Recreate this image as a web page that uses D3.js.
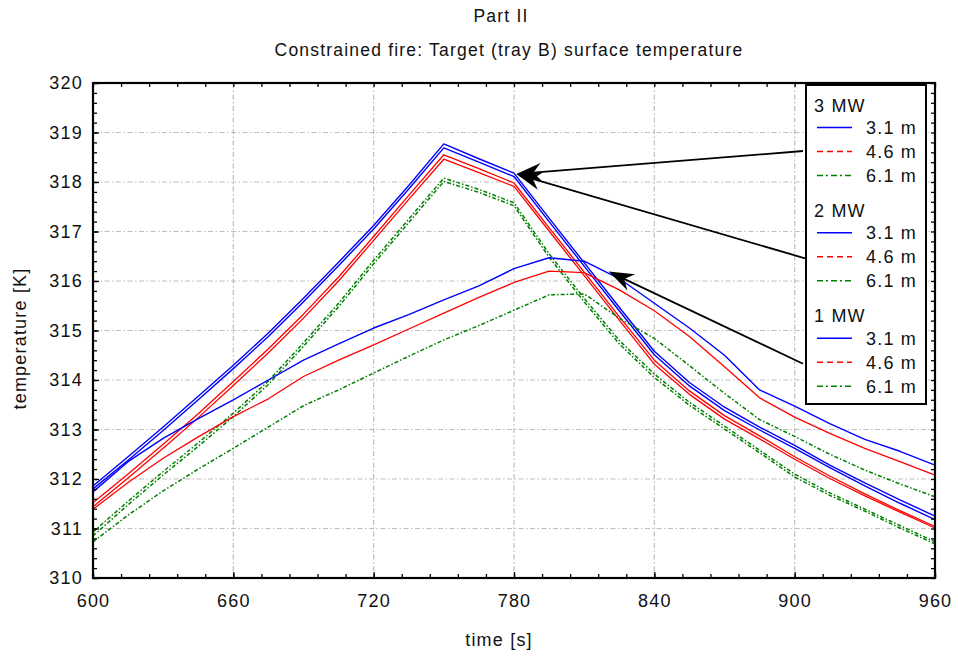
<!DOCTYPE html>
<html><head><meta charset="utf-8">
<script src="https://cdn.jsdelivr.net/npm/d3@7"></script>
<style>
body{margin:0;background:#fff}
text{font-family:"Liberation Sans",Arial,Helvetica,sans-serif;letter-spacing:1.2px;fill:#111}
</style>
</head><body>
<svg id="c" width="958" height="656"></svg>
<script>
// ---------- data ----------
const time = [600,615,630,645,660,675,690,705,720,735,750,765,780,795,810,825,840,855,870,885,900,915,930,945,960];
const mw3_h31 = [311.86,312.45,313.05,313.67,314.30,314.95,315.65,316.38,317.12,317.93,318.77,318.47,318.18,317.27,316.37,315.47,314.58,313.95,313.45,313.05,312.68,312.28,311.92,311.58,311.25];
const mw3_h46 = [311.52,312.10,312.70,313.32,313.97,314.63,315.33,316.08,316.90,317.73,318.55,318.27,317.98,317.08,316.18,315.28,314.40,313.78,313.28,312.87,312.45,312.06,311.70,311.36,311.04];
const mw3_h61 = [310.93,311.55,312.15,312.73,313.33,313.98,314.75,315.55,316.42,317.25,318.08,317.85,317.58,316.55,315.65,314.80,314.12,313.55,313.07,312.58,312.10,311.72,311.39,311.06,310.73];
const mw2_h31 = [311.80,312.38,312.98,313.60,314.23,314.88,315.58,316.31,317.05,317.86,318.69,318.40,318.11,317.20,316.30,315.40,314.51,313.88,313.38,312.99,312.62,312.23,311.86,311.51,311.18];
const mw2_h46 = [311.44,312.02,312.62,313.24,313.89,314.55,315.25,316.00,316.82,317.65,318.46,318.19,317.91,317.01,316.11,315.21,314.32,313.71,313.21,312.81,312.40,312.01,311.66,311.33,311.01];
const mw2_h61 = [310.85,311.48,312.08,312.66,313.26,313.91,314.68,315.48,316.35,317.18,318.01,317.79,317.52,316.48,315.58,314.73,314.05,313.49,313.01,312.53,312.04,311.67,311.35,311.01,310.69];
const mw1_h31 = [311.74,312.35,312.82,313.22,313.60,314.00,314.40,314.73,315.05,315.32,315.62,315.90,316.25,316.47,316.40,316.05,315.55,315.05,314.50,313.80,313.47,313.12,312.80,312.56,312.28];
const mw1_h46 = [311.39,311.93,312.42,312.85,313.26,313.62,314.07,314.40,314.71,315.03,315.35,315.67,315.97,316.20,316.17,315.82,315.40,314.88,314.27,313.64,313.25,312.92,312.62,312.35,312.08];
const mw1_h61 = [310.73,311.27,311.76,312.20,312.62,313.05,313.48,313.80,314.14,314.48,314.81,315.10,315.41,315.72,315.74,315.25,314.84,314.29,313.73,313.20,312.86,312.50,312.18,311.90,311.64];

const powers = ["3 MW","2 MW","1 MW"];
const heights = ["3.1 m","4.6 m","6.1 m"];
const xTicks = [600,660,720,780,840,900,960];
const yTicks = [310,311,312,313,314,315,316,317,318,319,320];
const titleText = "Part II";
const subtitleText = "Constrained fire: Target (tray B) surface temperature";
const xLabel = "time [s]";
const yLabel = "temperature [K]";
// arrow tips (data coordinates) for each power group
const arrowTipsT = [781, 781, 820.5];
const arrowTipsK = [318.16, 318.16, 316.19];

const seriesValues = [
  [mw3_h31, mw3_h46, mw3_h61],
  [mw2_h31, mw2_h46, mw2_h61],
  [mw1_h31, mw1_h46, mw1_h61]
];

// ---------- layout ----------
const W = 958, H = 656;
const m = {left:93, right:935, top:83, bottom:578};
const svg = d3.select("#c");
const x = d3.scaleLinear().domain([600,960]).range([m.left, m.right]);
const y = d3.scaleLinear().domain([310,320]).range([m.bottom, m.top]);

const colors = ["#0000ff","#ff0000","#008000"];
const plotDash = [null, null, "4,2,1.5,2"];
const legendDash = [null, "6,4", "6,3,2,3"];
const plotWidth = [1.4, 1.3, 1.5];

// grid
const grid = svg.append("g");
xTicks.filter(v => v>600 && v<960).forEach(v => {
  grid.append("line").attr("x1", x(v)).attr("x2", x(v)).attr("y1", m.top).attr("y2", m.bottom)
    .attr("stroke","#bdbdbd").attr("stroke-width",1.2).attr("stroke-dasharray","5,2.5,1.5,2.5");
});
yTicks.filter(v => v>310 && v<320).forEach(v => {
  grid.append("line").attr("x1", m.left).attr("x2", m.right).attr("y1", y(v)).attr("y2", y(v))
    .attr("stroke","#bdbdbd").attr("stroke-width",1.2).attr("stroke-dasharray","5,2.5,1.5,2.5");
});

// data lines
const line = d3.line().x((d,i) => x(time[i])).y(d => y(d));
const lines = svg.append("g");
seriesValues.forEach((grp, gi) => {
  grp.forEach((vals, hi) => {
    lines.append("path").attr("d", line(vals)).attr("fill","none")
      .attr("stroke", colors[hi]).attr("stroke-width", plotWidth[hi])
      .attr("stroke-dasharray", plotDash[hi]).attr("stroke-linejoin","round");
  });
});

// axes
function styleAxis(g, fs) {
  g.select(".domain").remove();
  g.selectAll("line").attr("stroke","#000").attr("stroke-width",1.3);
  g.selectAll("text").attr("font-size", fs).attr("fill","#111")
    .attr("font-family","Liberation Sans, Arial, sans-serif");
}
const minorX = d3.range(600, 961, 12);
const minorY = d3.range(310, 320.001, 0.2);

const gxB = svg.append("g").attr("transform",`translate(0,${m.bottom})`)
  .call(d3.axisBottom(x).tickValues(xTicks).tickFormat(d3.format("d")).tickSizeInner(-6).tickSizeOuter(0).tickPadding(16));
styleAxis(gxB, 18);
const gxBm = svg.append("g").attr("transform",`translate(0,${m.bottom})`)
  .call(d3.axisBottom(x).tickValues(minorX).tickFormat("").tickSizeInner(-4).tickSizeOuter(0));
styleAxis(gxBm, 0);
const gxT = svg.append("g").attr("transform",`translate(0,${m.top})`)
  .call(d3.axisTop(x).tickValues(minorX).tickFormat("").tickSizeInner(-4).tickSizeOuter(0));
styleAxis(gxT, 0);
const gyL = svg.append("g").attr("transform",`translate(${m.left},0)`)
  .call(d3.axisLeft(y).tickValues(yTicks).tickFormat(d3.format("d")).tickSizeInner(-6).tickSizeOuter(0).tickPadding(10));
styleAxis(gyL, 18);
const gyLm = svg.append("g").attr("transform",`translate(${m.left},0)`)
  .call(d3.axisLeft(y).tickValues(minorY).tickFormat("").tickSizeInner(-4).tickSizeOuter(0));
styleAxis(gyLm, 0);
const gyR = svg.append("g").attr("transform",`translate(${m.right},0)`)
  .call(d3.axisRight(y).tickValues(minorY).tickFormat("").tickSizeInner(-4).tickSizeOuter(0));
styleAxis(gyR, 0);

// frame
svg.append("rect").attr("x", m.left).attr("y", m.top).attr("width", m.right-m.left).attr("height", m.bottom-m.top)
  .attr("fill","none").attr("stroke","#000").attr("stroke-width",2.2);

// legend
const lg = {x:806, y:85, w:120, h:319};
const leg = svg.append("g");
leg.append("rect").attr("x", lg.x).attr("y", lg.y).attr("width", lg.w).attr("height", lg.h)
  .attr("fill","#fff").attr("stroke","#000").attr("stroke-width",2);
const groupBase = [111.5, 216.8, 322.2];
const rowY = [];
powers.forEach((p, gi) => {
  const hb = groupBase[gi];
  leg.append("text").attr("x", 814).attr("y", hb).attr("font-size",18).text(p);
  rowY.push([]);
  heights.forEach((h, hi) => {
    const ry = hb + 16 + hi*24;
    rowY[gi].push(ry);
    leg.append("line").attr("x1", 817).attr("x2", 852).attr("y1", ry).attr("y2", ry)
      .attr("stroke", colors[hi]).attr("stroke-width", 1.6).attr("stroke-dasharray", legendDash[hi]);
    leg.append("text").attr("x", 866).attr("y", ry + 6.5).attr("font-size",18).text(h);
  });
});

// arrows
const arr = svg.append("g");
const tails = [[803, rowY[0][1] - 0.5], [805, rowY[1][1] + 1.5], [803, rowY[2][1] + 1.5]];
arrowTipsT.forEach((t, i) => {
  const tx = x(t), ty = y(arrowTipsK[i]);
  const [sx, sy] = tails[i];
  const ang = Math.atan2(sy - ty, sx - tx);
  const c = Math.cos(ang), s = Math.sin(ang);
  const L = 25, Wd = 9, N = 17;
  const pt = (a, b) => [tx + a*c - b*s, ty + a*s + b*c];
  const nx = pt(N, 0);
  arr.append("line").attr("x1", sx).attr("y1", sy).attr("x2", nx[0]).attr("y2", nx[1])
    .attr("stroke","#000").attr("stroke-width",1.8);
  const pts = [pt(0,0), pt(L, Wd), pt(N, 0), pt(L, -Wd)];
  arr.append("path").attr("d", "M" + pts.map(p => p.join(",")).join("L") + "Z").attr("fill","#000");
});

// titles
svg.append("text").attr("x", 501).attr("y", 22).attr("text-anchor","middle").attr("font-size",17.5).text(titleText);
svg.append("text").attr("x", 509).attr("y", 55.5).attr("text-anchor","middle").attr("font-size",17.5).text(subtitleText);
svg.append("text").attr("x", 499).attr("y", 646).attr("text-anchor","middle").attr("font-size",18).text(xLabel);
svg.append("text").attr("transform","translate(26,338.5) rotate(-90)").attr("text-anchor","middle").attr("font-size",18).text(yLabel);
</script>
</body></html>
